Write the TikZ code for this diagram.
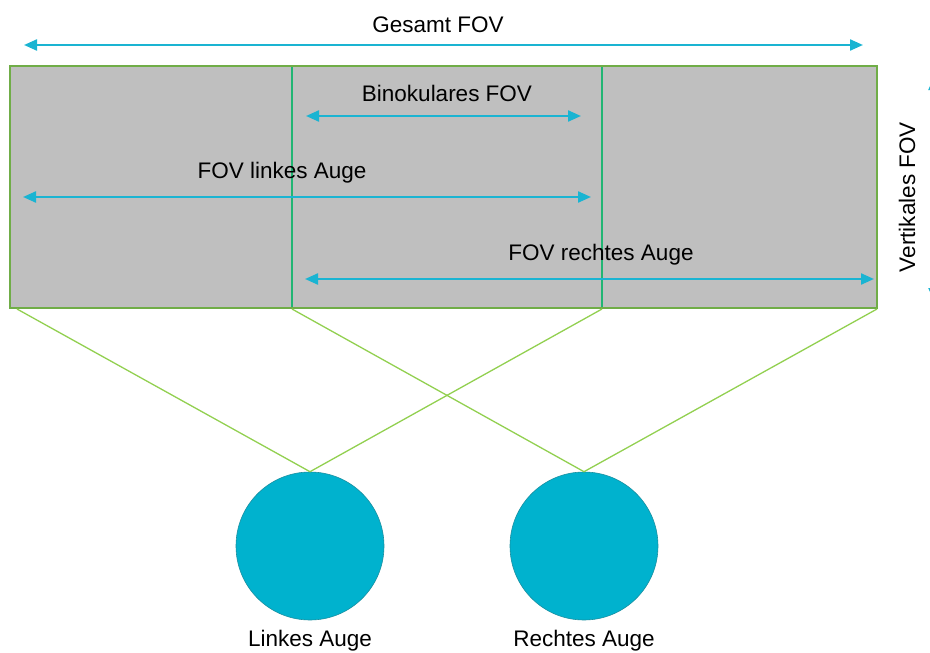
\documentclass[tikz,border=0pt]{standalone}
\usepackage{fontspec}
\setmainfont{Liberation Sans}
\usetikzlibrary{arrows.meta}
\definecolor{fovgray}{HTML}{BFBFBF}
\definecolor{frame}{HTML}{70AD47}
\definecolor{divider}{HTML}{21B573}
\definecolor{ray}{HTML}{92D050}
\definecolor{span}{HTML}{1AB4D2}
\definecolor{eye}{HTML}{00B2CE}
\definecolor{eyeedge}{HTML}{1A8FA0}
\tikzset{
  px/.style={x=1pt,y=-1pt},
  spanarrow/.style={draw=span,line width=2.2pt,{Triangle[length=13pt,width=11pt]}-{Triangle[length=13pt,width=11pt]}},
  label/.style={font=\fontsize{22.5}{26}\selectfont,text=black,inner sep=0pt},
  raystyle/.style={draw=ray,line width=1.3pt},
  eyeball/.style={circle,fill=eye,draw=eyeedge,line width=0.6pt,minimum size=148pt,inner sep=0pt}
}
\begin{document}
\begin{tikzpicture}[px]
\useasboundingbox (0,0) rectangle (930,653);
% field of view area
\fill[fovgray] (10,66) rectangle (877,308);
\draw[divider,line width=1.3pt] (292,66) -- (292,308);
\draw[divider,line width=1.3pt] (602,66) -- (602,308);
\draw[frame,line width=1.3pt] (10,66) rectangle (877,308);
% corner points of the field
\coordinate (bl) at (17,309);
\coordinate (bm1) at (292,309);
\coordinate (bm2) at (602,309);
\coordinate (br) at (877,309);
% eyes
\node[eyeball] (le) at (310,546) {};
\node[eyeball] (re) at (584,546) {};
\node[label] (lel) at (310,641) {Linkes Auge};
\node[label] (rel) at (584,641) {Rechtes Auge};
% sight rays
\draw[raystyle] (bl) -- (le.north);
\draw[raystyle] (bm2) -- (le.north);
\draw[raystyle] (bm1) -- (re.north);
\draw[raystyle] (br) -- (re.north);
% horizontal spans
\node[label] (gt) at (438,25) {Gesamt FOV};
\coordinate (g1) at (24,45); \coordinate (g2) at (863,45);
\draw[spanarrow] (g1) -- (g2);
\node[label] (bt) at (447,93) {Binokulares FOV};
\coordinate (b1) at (306,116); \coordinate (b2) at (581,116);
\draw[spanarrow] (b1) -- (b2);
\node[label] (lt) at (282,173) {FOV linkes Auge};
\coordinate (l1) at (23,197); \coordinate (l2) at (591,197);
\draw[spanarrow] (l1) -- (l2);
\node[label] (rt) at (601,255) {FOV rechtes Auge};
\coordinate (r1) at (305,279); \coordinate (r2) at (874,279);
\draw[spanarrow] (r1) -- (r2);
% vertical span
\node[label,rotate=90] (vt) at (907,197) {Vertikales FOV};
\coordinate (v1) at (934,77); \coordinate (v2) at (934,301);
\draw[spanarrow] (v1) -- (v2);
\end{tikzpicture}
\end{document}
